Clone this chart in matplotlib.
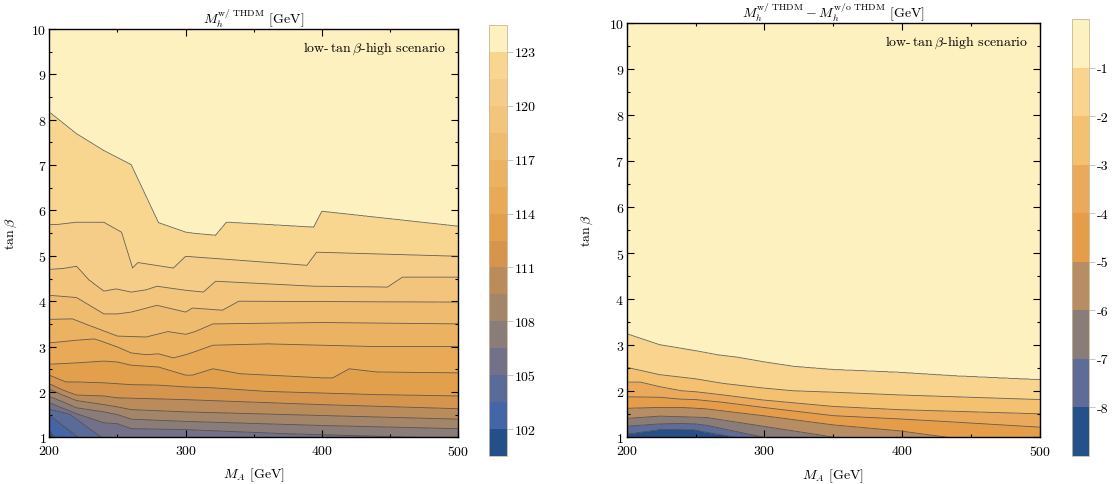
import matplotlib
matplotlib.use('Agg')
import matplotlib.pyplot as plt
import numpy as np
from matplotlib.ticker import MultipleLocator, FixedFormatter

plt.rcParams['font.family'] = 'serif'
plt.rcParams['font.serif'] = ['cmr10']
plt.rcParams['mathtext.fontset'] = 'cm'
plt.rcParams['axes.formatter.use_mathtext'] = True
plt.rcParams['contour.negative_linestyle'] = 'solid'

# ---------------- left panel: M_h with THDM (contour lines)
left_levels = [102, 103.5, 105, 106.5, 108, 109.5, 111, 112.5, 114, 115.5,
               117, 118.5, 120, 121.5, 123]
left_bounds = [100.5] + left_levels + [124.5]
left_ticks = [102, 105, 108, 111, 114, 117, 120, 123]
left_colors = ['#24508a', '#4466a6', '#5a6b99', '#737189', '#8a7c78',
               '#a3856a', '#bb8c5b', '#d6954e', '#e2a04c', '#e8aa56',
               '#ebb262', '#efbb6e', '#f2c47c', '#f5cd88', '#f8d690',
               '#fef1c0']

ma_102 = [200, 204, 500]
tb_102 = [1.17, 1.0, 0.2]
ma_1035 = [200, 221, 500]
tb_1035 = [1.49, 1.0, 0.4]
ma_105 = [200, 215, 238, 500]
tb_105 = [1.62, 1.51, 1.0, 0.6]
ma_1065 = [200, 220, 240, 250, 260, 300, 373, 470, 500]
tb_1065 = [1.76, 1.52, 1.32, 1.30, 1.19, 1.17, 1.08, 1.0, 0.95]
ma_108 = [200, 210, 220, 240, 250, 260, 300, 400, 500]
tb_108 = [1.90, 1.78, 1.65, 1.56, 1.50, 1.40, 1.35, 1.26, 1.19]
ma_1095 = [200, 210, 220, 240, 250, 260, 300, 400, 500]
tb_1095 = [2.06, 1.93, 1.81, 1.72, 1.67, 1.61, 1.56, 1.48, 1.40]
ma_111 = [200, 210, 220, 240, 250, 300, 400, 500]
tb_111 = [2.18, 2.04, 1.93, 1.91, 1.87, 1.83, 1.72, 1.63]
ma_1125 = [200, 212, 220, 240, 260, 280, 300, 320, 360, 440, 500]
tb_1125 = [2.37, 2.22, 2.22, 2.20, 2.16, 2.15, 2.11, 2.09, 2.01, 1.94, 1.91]
ma_114 = [200, 220, 240, 250, 260, 280, 300, 305, 320, 340, 360, 400, 408,
          420, 440, 500]
tb_114 = [2.61, 2.64, 2.68, 2.66, 2.59, 2.55, 2.37, 2.37, 2.51, 2.40, 2.37,
          2.31, 2.31, 2.51, 2.44, 2.42]
ma_1155 = [200, 220, 233, 240, 250, 260, 271, 280, 291, 300, 307, 320, 360,
           440, 500]
tb_1155 = [3.08, 3.14, 3.17, 3.10, 2.99, 2.86, 2.82, 2.84, 2.75, 2.82, 2.89,
           3.03, 3.06, 3.00, 3.00]
ma_117 = [200, 217, 228, 250, 271, 287, 300, 307, 320, 400, 500]
tb_117 = [3.60, 3.61, 3.48, 3.23, 3.21, 3.33, 3.27, 3.33, 3.50, 3.53, 3.50]
ma_1185 = [200, 220, 240, 250, 260, 279, 300, 305, 327, 339, 500]
tb_1185 = [4.13, 4.08, 3.72, 3.72, 3.76, 3.91, 3.76, 3.85, 3.80, 4.00, 3.98]
ma_120 = [200, 210, 220, 229, 240, 249, 260, 271, 279, 300, 313, 322, 394,
          448, 459, 500]
tb_120 = [4.70, 4.72, 4.77, 4.47, 4.22, 4.27, 4.20, 4.25, 4.33, 4.24, 4.20,
          4.44, 4.33, 4.31, 4.53, 4.53]
ma_1215 = [200, 206, 220, 240, 253, 261, 265, 291, 300, 389, 396, 500]
tb_1215 = [5.69, 5.69, 5.74, 5.74, 5.52, 4.73, 4.85, 4.73, 4.99, 4.79, 5.08,
           4.99]
ma_123 = [200, 220, 240, 260, 280, 300, 307, 322, 330, 394, 400, 500]
tb_123 = [8.17, 7.69, 7.32, 7.01, 5.73, 5.52, 5.49, 5.45, 5.74, 5.63, 5.98,
          5.65]

left_lines = [(ma_102, tb_102), (ma_1035, tb_1035), (ma_105, tb_105),
              (ma_1065, tb_1065), (ma_108, tb_108), (ma_1095, tb_1095),
              (ma_111, tb_111), (ma_1125, tb_1125), (ma_114, tb_114),
              (ma_1155, tb_1155), (ma_117, tb_117), (ma_1185, tb_1185),
              (ma_120, tb_120), (ma_1215, tb_1215), (ma_123, tb_123)]

# ---------------- right panel: difference with / without THDM
right_levels = [-8, -7, -6, -5, -4, -3, -2, -1]
right_bounds = [-9] + right_levels + [0]
right_ticks = right_levels
right_colors = ['#24518a', '#5e6c98', '#8a7c79', '#b78d63', '#e59d4a',
                '#eba95c', '#f3c170', '#f8d48e', '#fef1c0']

ma_m8 = [200, 224, 239, 250, 258, 280, 500]
tb_m8 = [1.07, 1.17, 1.17, 1.16, 1.11, 1.0, 0.3]
ma_m7 = [200, 224, 239, 250, 258, 299, 500]
tb_m7 = [1.24, 1.29, 1.30, 1.29, 1.26, 1.0, 0.5]
ma_m6 = [200, 224, 258, 299, 340, 350, 500]
tb_m6 = [1.41, 1.46, 1.43, 1.24, 1.05, 1.0, 0.7]
ma_m5 = [200, 224, 239, 257, 299, 350, 398, 420, 433, 500]
tb_m5 = [1.63, 1.65, 1.65, 1.62, 1.47, 1.27, 1.14, 1.05, 1.0, 0.9]
ma_m4 = [200, 224, 239, 250, 270, 299, 350, 398, 439, 500]
tb_m4 = [1.88, 1.87, 1.83, 1.82, 1.76, 1.65, 1.47, 1.40, 1.33, 1.22]
ma_m3 = [200, 210, 224, 240, 250, 270, 299, 350, 398, 500]
tb_m3 = [2.20, 2.20, 2.10, 2.01, 1.99, 1.92, 1.81, 1.67, 1.60, 1.51]
ma_m2 = [200, 224, 250, 270, 299, 321, 350, 398, 500]
tb_m2 = [2.52, 2.36, 2.27, 2.17, 2.07, 2.01, 1.98, 1.92, 1.82]
ma_m1 = [200, 224, 250, 266, 280, 299, 321, 350, 398, 440, 500]
tb_m1 = [3.25, 3.01, 2.88, 2.79, 2.74, 2.64, 2.54, 2.47, 2.41, 2.33, 2.25]

right_lines = [(ma_m8, tb_m8), (ma_m7, tb_m7), (ma_m6, tb_m6),
               (ma_m5, tb_m5), (ma_m4, tb_m4), (ma_m3, tb_m3),
               (ma_m2, tb_m2), (ma_m1, tb_m1)]


def build_field(ma_grid, tb_grid, levels, lines, z_low, z_high):
    # rebuild a gridded field whose contours follow the read-off lines
    Z = np.empty((len(tb_grid), len(ma_grid)))
    for j, m in enumerate(ma_grid):
        pos = np.array([np.interp(m, ma, tb) for ma, tb in lines])
        pos = np.maximum.accumulate(pos)
        xp = np.concatenate([[-1.0], pos, [11.0]])
        xp = xp + np.arange(len(xp)) * 1e-6
        fp = np.concatenate([[z_low], levels, [z_high]])
        Z[:, j] = np.interp(tb_grid, xp, fp)
    return Z


ma_grid = np.linspace(200, 500, 601)
tb_grid = np.linspace(1, 10, 901)

Z_left = build_field(ma_grid, tb_grid, left_levels, left_lines, 100.6, 124.4)
Z_right = build_field(ma_grid, tb_grid, right_levels, right_lines, -8.9, -0.1)

W, H = 1112, 485
fig = plt.figure(figsize=(W / 100, H / 100), dpi=100)


def px_axes(x0, x1, y0, y1):
    return fig.add_axes([x0 / W, 1 - y1 / H, (x1 - x0) / W, (y1 - y0) / H])


ax1 = px_axes(49.3, 458.3, 30, 438.3)
cax1 = px_axes(489.3, 506.7, 26, 457)
ax2 = px_axes(626.7, 1040, 24.3, 438.3)
cax2 = px_axes(1071.7, 1089, 20, 457)

panels = [
    (ax1, cax1, Z_left, left_bounds, left_levels, left_colors, left_ticks,
     r'$M_h^{\mathrm{w/\ THDM}}$ [GeV]'),
    (ax2, cax2, Z_right, right_bounds, right_levels, right_colors, right_ticks,
     r'$M_h^{\mathrm{w/\ THDM}} - M_h^{\mathrm{w/o\ THDM}}$ [GeV]'),
]

for ax, cax, Z, bounds, levels, colors, ticks, title in panels:
    cf = ax.contourf(ma_grid, tb_grid, Z, levels=bounds, colors=colors)
    ax.contour(ma_grid, tb_grid, Z, levels=levels, colors='#4a4a4a',
               linewidths=0.6, alpha=0.85, linestyles='solid')
    ax.set_xlim(200, 500)
    ax.set_ylim(1, 10)
    ax.xaxis.set_major_locator(MultipleLocator(100))
    ax.xaxis.set_minor_locator(MultipleLocator(50))
    ax.yaxis.set_major_locator(MultipleLocator(1))
    ax.yaxis.set_minor_locator(MultipleLocator(0.5))
    ax.tick_params(which='both', direction='in', top=True, right=True,
                   labelsize=10, width=0.8)
    ax.tick_params(which='major', length=5)
    ax.tick_params(which='minor', length=2.5)
    ax.tick_params(axis='x', pad=5)
    ax.tick_params(axis='y', pad=2)
    for sp in ax.spines.values():
        sp.set_linewidth(1.0)
    ax.set_title(title, fontsize=10, pad=3)
    ax.set_xlabel(r'$M_A$ [GeV]', fontsize=10)
    ax.set_ylabel(r'$\tan\beta$', fontsize=10)
    ax.text(0.97, 0.955, r'low-$\,\tan\beta$-high scenario', transform=ax.transAxes,
            ha='right', va='center', fontsize=10)

    cb = fig.colorbar(cf, cax=cax, ticks=ticks)
    cb.outline.set_linewidth(0.6)
    cb.outline.set_edgecolor('#c8b898')
    cax.yaxis.set_major_formatter(FixedFormatter([str(t) for t in ticks]))
    cax.tick_params(direction='out', length=4, width=0.6, color='#bbbbbb',
                    labelsize=10, pad=2)

ax1.xaxis.set_label_coords(0.5, -0.07)
ax1.yaxis.set_label_coords(-0.075, 0.5)
ax2.xaxis.set_label_coords(0.5, -0.07)
ax2.yaxis.set_label_coords(-0.076, 0.5)

plt.savefig('out.png', dpi=100)
plt.close()
